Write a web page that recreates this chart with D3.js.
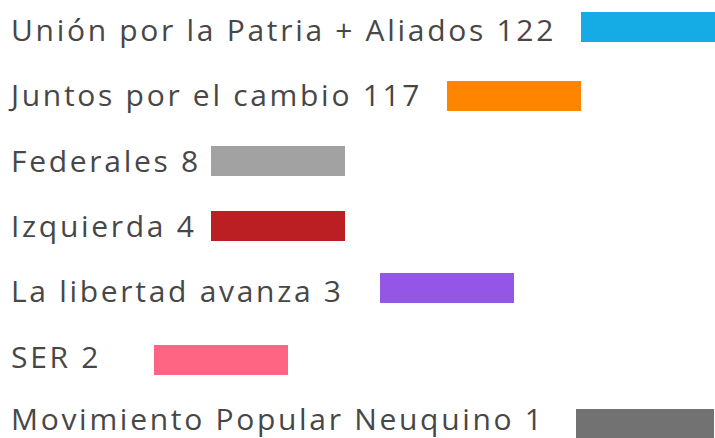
<!DOCTYPE html>
<html>
<head>
<meta charset="utf-8">
<script src="https://cdn.jsdelivr.net/npm/d3@7"></script>
<style>
  html, body { margin: 0; padding: 0; background: #fff; }
  svg { display: block; }
</style>
</head>
<body>
<svg id="chart" width="715" height="438"></svg>
<script>
// ---- data ----
const parties = [
  "Unión por la Patria + Aliados",
  "Juntos por el cambio",
  "Federales",
  "Izquierda",
  "La libertad avanza",
  "SER",
  "Movimiento Popular Neuquino"
];
const seats = [122, 117, 8, 4, 3, 2, 1];
const colors = ["#15ABE5", "#FF8500", "#A2A2A2", "#BC1F23", "#9356E5", "#FE6583", "#727272"];

// ---- layout (legend-style rows, as in the reference) ----
const rowTops = [12, 81, 146, 211, 273, 345, 409];
const baselines = [41, 106, 172, 237, 302, 368, 430];
const swatchXs = [581, 447, 211, 211, 380, 154, 576];
const swatchWs = [134, 134, 134, 134, 134, 134, 138];
const swatchH = 30;

const svg = d3.select("#chart");

const yScale = d3.scaleOrdinal().domain(parties).range(rowTops);
const yText = d3.scaleOrdinal().domain(parties).range(baselines);
const xSwatch = d3.scaleOrdinal().domain(parties).range(swatchXs);
const wSwatch = d3.scaleOrdinal().domain(parties).range(swatchWs);
const color = d3.scaleOrdinal().domain(parties).range(colors);

const rows = parties.map((p, i) => ({ party: p, seats: seats[i] }));

const g = svg.selectAll("g.row").data(rows).join("g").attr("class", "row");

g.append("rect")
  .attr("x", d => xSwatch(d.party))
  .attr("y", d => yScale(d.party))
  .attr("width", d => wSwatch(d.party))
  .attr("height", swatchH)
  .attr("fill", d => color(d.party));

g.append("text")
  .attr("x", 11)
  .attr("y", d => yText(d.party))
  .attr("font-family", "'Open Sans', sans-serif")
  .attr("font-size", 30)
  .attr("letter-spacing", "2.7px")
  .attr("fill", "#474747")
  .text(d => `${d.party} ${d.seats}`);
</script>
</body>
</html>
